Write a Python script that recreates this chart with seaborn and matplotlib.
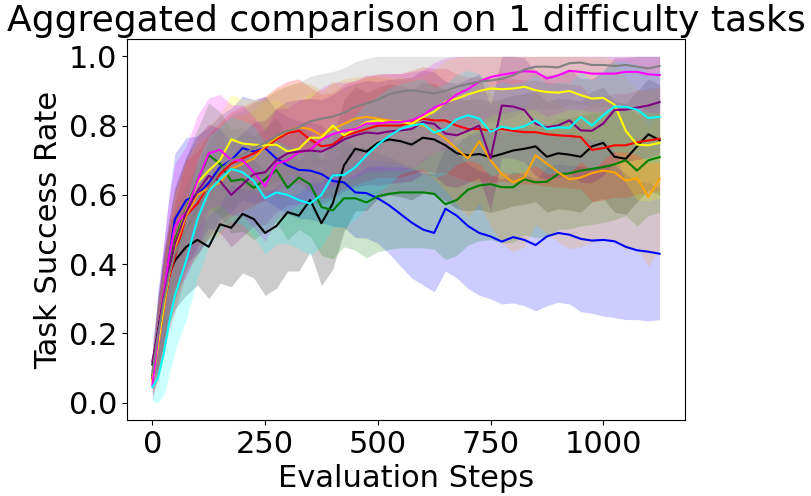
import numpy as np
import pandas as pd
import matplotlib
matplotlib.use("Agg")
import matplotlib.pyplot as plt
import seaborn as sns

steps = [0, 12, 25, 37, 50, 75, 100, 125, 150, 175, 200, 225, 250, 275, 300, 325,
         350, 375, 400, 425, 450, 475, 500, 525, 550, 575, 600, 625, 650, 675, 700,
         725, 750, 775, 800, 825, 850, 875, 900, 925, 950, 975, 1000, 1025, 1050,
         1075, 1100, 1125]

# mean task success rate per run
blue = [0.07, 0.20, 0.30, 0.42, 0.53, 0.585, 0.60, 0.635, 0.68, 0.70, 0.735, 0.725,
        0.735, 0.705, 0.685, 0.672, 0.67, 0.66, 0.64, 0.636, 0.607, 0.605, 0.59, 0.57,
        0.545, 0.52, 0.50, 0.49, 0.56, 0.54, 0.51, 0.49, 0.48, 0.465, 0.478, 0.47,
        0.455, 0.48, 0.49, 0.485, 0.473, 0.468, 0.47, 0.466, 0.45, 0.44, 0.436, 0.43]
black = [0.11, 0.20, 0.30, 0.37, 0.41, 0.45, 0.47, 0.45, 0.515, 0.505, 0.545, 0.53,
         0.49, 0.51, 0.55, 0.54, 0.585, 0.518, 0.575, 0.685, 0.733, 0.725, 0.75, 0.76,
         0.755, 0.745, 0.765, 0.76, 0.743, 0.72, 0.714, 0.718, 0.709, 0.718, 0.728,
         0.733, 0.74, 0.71, 0.72, 0.716, 0.71, 0.74, 0.75, 0.71, 0.704, 0.74, 0.775, 0.758]
green = [0.08, 0.18, 0.29, 0.39, 0.47, 0.56, 0.64, 0.715, 0.69, 0.64, 0.645, 0.62,
         0.645, 0.672, 0.62, 0.65, 0.63, 0.565, 0.555, 0.59, 0.59, 0.578, 0.596, 0.603,
         0.607, 0.607, 0.607, 0.603, 0.573, 0.585, 0.615, 0.627, 0.631, 0.622, 0.622,
         0.645, 0.636, 0.638, 0.66, 0.662, 0.67, 0.675, 0.68, 0.688, 0.70, 0.67, 0.70, 0.709]
red = [0.07, 0.17, 0.27, 0.36, 0.42, 0.54, 0.575, 0.625, 0.66, 0.69, 0.705, 0.72,
       0.735, 0.76, 0.778, 0.785, 0.76, 0.74, 0.745, 0.77, 0.78, 0.79, 0.80, 0.80, 0.80,
       0.81, 0.82, 0.815, 0.815, 0.80, 0.79, 0.79, 0.786, 0.79, 0.785, 0.781, 0.781,
       0.775, 0.772, 0.77, 0.767, 0.73, 0.735, 0.743, 0.743, 0.752, 0.757, 0.762]
orange = [0.06, 0.16, 0.27, 0.37, 0.45, 0.54, 0.60, 0.62, 0.635, 0.675, 0.69, 0.705,
          0.74, 0.765, 0.785, 0.795, 0.79, 0.772, 0.79, 0.805, 0.82, 0.825, 0.82, 0.815,
          0.81, 0.805, 0.80, 0.785, 0.762, 0.733, 0.705, 0.755, 0.70, 0.66, 0.636, 0.65,
          0.714, 0.69, 0.665, 0.645, 0.65, 0.663, 0.67, 0.665, 0.641, 0.648, 0.594, 0.646]
yellow = [0.06, 0.17, 0.28, 0.37, 0.46, 0.555, 0.635, 0.67, 0.70, 0.76, 0.748, 0.745,
          0.743, 0.745, 0.725, 0.733, 0.765, 0.765, 0.80, 0.772, 0.79, 0.81, 0.815, 0.81,
          0.812, 0.805, 0.825, 0.84, 0.868, 0.878, 0.89, 0.90, 0.907, 0.905, 0.907,
          0.912, 0.902, 0.897, 0.895, 0.90, 0.888, 0.878, 0.88, 0.86, 0.785, 0.745, 0.743, 0.75]
magenta = [0.05, 0.18, 0.31, 0.42, 0.51, 0.55, 0.64, 0.72, 0.73, 0.70, 0.70, 0.665,
           0.625, 0.69, 0.70, 0.723, 0.73, 0.76, 0.775, 0.785, 0.79, 0.806, 0.806, 0.81,
           0.81, 0.815, 0.83, 0.852, 0.865, 0.89, 0.905, 0.927, 0.94, 0.947, 0.952,
           0.957, 0.955, 0.936, 0.945, 0.958, 0.955, 0.95, 0.95, 0.95, 0.955, 0.955, 0.948, 0.946]
purple = [0.12, 0.20, 0.30, 0.38, 0.46, 0.55, 0.61, 0.655, 0.64, 0.60, 0.63, 0.66,
          0.665, 0.70, 0.72, 0.725, 0.728, 0.725, 0.74, 0.76, 0.772, 0.78, 0.777, 0.783,
          0.786, 0.79, 0.81, 0.805, 0.777, 0.772, 0.785, 0.80, 0.705, 0.858, 0.855,
          0.845, 0.805, 0.795, 0.80, 0.815, 0.786, 0.785, 0.806, 0.845, 0.846, 0.852, 0.858, 0.868]
cyan = [0.045, 0.07, 0.14, 0.23, 0.31, 0.41, 0.53, 0.61, 0.645, 0.675, 0.665, 0.64,
        0.59, 0.607, 0.60, 0.585, 0.575, 0.60, 0.656, 0.657, 0.68, 0.714, 0.745, 0.77,
        0.79, 0.80, 0.805, 0.78, 0.79, 0.818, 0.83, 0.82, 0.782, 0.797, 0.79, 0.798,
        0.815, 0.79, 0.795, 0.793, 0.825, 0.80, 0.83, 0.855, 0.854, 0.846, 0.822, 0.825]
gray = [0.09, 0.19, 0.29, 0.37, 0.43, 0.50, 0.56, 0.62, 0.67, 0.70, 0.715, 0.735,
        0.75, 0.77, 0.785, 0.795, 0.812, 0.82, 0.826, 0.837, 0.854, 0.864, 0.875, 0.89,
        0.898, 0.902, 0.897, 0.893, 0.90, 0.912, 0.92, 0.927, 0.93, 0.935, 0.945,
        0.962, 0.97, 0.97, 0.968, 0.98, 0.982, 0.975, 0.975, 0.972, 0.975, 0.97, 0.965, 0.972]

# standard deviation per run (shaded band)
blue_sd = [0.05, 0.12, 0.16, 0.18, 0.19, 0.18, 0.17, 0.16, 0.15, 0.15,
           0.15, 0.15, 0.15, 0.14, 0.14, 0.14, 0.14, 0.14, 0.13, 0.13,
           0.13, 0.13, 0.13, 0.14, 0.15, 0.16, 0.16, 0.17, 0.18, 0.18,
           0.18, 0.18, 0.18, 0.18, 0.19, 0.19, 0.19, 0.20, 0.20, 0.20,
           0.21, 0.21, 0.22, 0.22, 0.21, 0.20, 0.20, 0.19]
black_sd = [0.04, 0.10, 0.13, 0.14, 0.14, 0.14, 0.13, 0.15, 0.17, 0.17,
            0.17, 0.17, 0.18, 0.18, 0.17, 0.16, 0.15, 0.18, 0.19, 0.19,
            0.18, 0.17, 0.16, 0.16, 0.16, 0.16, 0.16, 0.16, 0.16, 0.16,
            0.16, 0.16, 0.16, 0.16, 0.16, 0.16, 0.16, 0.16, 0.16, 0.16,
            0.16, 0.16, 0.16, 0.16, 0.16, 0.16, 0.16, 0.16]
green_sd = [0.04, 0.10, 0.13, 0.14, 0.15, 0.15, 0.15, 0.15, 0.15, 0.15,
            0.15, 0.15, 0.15, 0.15, 0.15, 0.15, 0.15, 0.14, 0.14, 0.14,
            0.15, 0.16, 0.16, 0.16, 0.16, 0.16, 0.16, 0.16, 0.16, 0.16,
            0.16, 0.16, 0.16, 0.16, 0.16, 0.16, 0.16, 0.16, 0.16, 0.16,
            0.16, 0.16, 0.16, 0.16, 0.16, 0.16, 0.16, 0.16]
red_sd = [0.04, 0.10, 0.13, 0.15, 0.16, 0.16, 0.15, 0.15, 0.15, 0.15,
          0.15, 0.15, 0.15, 0.15, 0.15, 0.15, 0.15, 0.15, 0.15, 0.15,
          0.15, 0.15, 0.15, 0.15, 0.15, 0.15, 0.15, 0.15, 0.15, 0.15,
          0.15, 0.15, 0.15, 0.15, 0.15, 0.15, 0.15, 0.15, 0.15, 0.15,
          0.15, 0.15, 0.15, 0.15, 0.15, 0.15, 0.15, 0.15]
orange_sd = [0.04, 0.10, 0.13, 0.15, 0.16, 0.16, 0.15, 0.15, 0.15, 0.15,
             0.14, 0.14, 0.14, 0.14, 0.13, 0.13, 0.13, 0.13, 0.13, 0.13,
             0.12, 0.12, 0.12, 0.12, 0.12, 0.13, 0.13, 0.14, 0.15, 0.16,
             0.17, 0.18, 0.19, 0.20, 0.20, 0.20, 0.20, 0.20, 0.20, 0.20,
             0.20, 0.20, 0.20, 0.20, 0.20, 0.20, 0.20, 0.20]
yellow_sd = [0.04, 0.10, 0.13, 0.14, 0.14, 0.14, 0.13, 0.13, 0.13, 0.13,
             0.13, 0.13, 0.13, 0.13, 0.13, 0.13, 0.13, 0.13, 0.13, 0.13,
             0.13, 0.13, 0.13, 0.13, 0.13, 0.13, 0.12, 0.12, 0.12, 0.12,
             0.12, 0.12, 0.12, 0.12, 0.12, 0.12, 0.12, 0.12, 0.12, 0.12,
             0.12, 0.12, 0.12, 0.13, 0.15, 0.16, 0.16, 0.16]
magenta_sd = [0.04, 0.11, 0.15, 0.17, 0.18, 0.19, 0.19, 0.16, 0.16, 0.16,
              0.16, 0.16, 0.16, 0.16, 0.15, 0.15, 0.15, 0.15, 0.15, 0.14,
              0.14, 0.14, 0.14, 0.14, 0.14, 0.14, 0.13, 0.13, 0.13, 0.12,
              0.12, 0.12, 0.11, 0.11, 0.11, 0.11, 0.11, 0.11, 0.11, 0.11,
              0.11, 0.11, 0.11, 0.11, 0.11, 0.11, 0.11, 0.11]
purple_sd = [0.05, 0.10, 0.13, 0.15, 0.16, 0.16, 0.16, 0.15, 0.15, 0.15,
             0.15, 0.15, 0.15, 0.15, 0.15, 0.15, 0.15, 0.15, 0.15, 0.15,
             0.15, 0.15, 0.15, 0.15, 0.15, 0.15, 0.15, 0.15, 0.15, 0.15,
             0.15, 0.15, 0.15, 0.15, 0.15, 0.15, 0.15, 0.15, 0.15, 0.15,
             0.15, 0.15, 0.15, 0.15, 0.15, 0.15, 0.15, 0.15]
cyan_sd = [0.04, 0.08, 0.12, 0.15, 0.16, 0.17, 0.17, 0.16, 0.15, 0.15,
           0.15, 0.16, 0.16, 0.15, 0.14, 0.14, 0.15, 0.15, 0.15, 0.15,
           0.15, 0.15, 0.14, 0.14, 0.13, 0.13, 0.13, 0.13, 0.13, 0.13,
           0.13, 0.13, 0.13, 0.13, 0.13, 0.13, 0.13, 0.13, 0.13, 0.13,
           0.13, 0.13, 0.13, 0.13, 0.13, 0.13, 0.13, 0.13]
gray_sd = [0.04, 0.10, 0.12, 0.13, 0.13, 0.13, 0.13, 0.13, 0.13, 0.13,
           0.13, 0.13, 0.13, 0.13, 0.13, 0.13, 0.13, 0.13, 0.13, 0.13,
           0.13, 0.13, 0.13, 0.13, 0.13, 0.13, 0.13, 0.13, 0.13, 0.13,
           0.12, 0.12, 0.12, 0.12, 0.12, 0.12, 0.12, 0.12, 0.12, 0.12,
           0.12, 0.12, 0.12, 0.12, 0.12, 0.12, 0.12, 0.12]

runs = {
    'blue': (blue, blue_sd),
    'black': (black, black_sd),
    'green': (green, green_sd),
    'red': (red, red_sd),
    'orange': (orange, orange_sd),
    'yellow': (yellow, yellow_sd),
    'magenta': (magenta, magenta_sd),
    'purple': (purple, purple_sd),
    'cyan': (cyan, cyan_sd),
    'gray': (gray, gray_sd),
}

rows = []
for name, (mean, sd) in runs.items():
    for s, m, d in zip(steps, mean, sd):
        rows.append({'run': name, 'step': s, 'rate': m, 'sd': d})
df = pd.DataFrame(rows)

plt.rcParams['font.size'] = 22

fig, ax = plt.subplots(figsize=(8.11, 4.96), dpi=100)
fig.subplots_adjust(left=0.1566, right=0.8446, bottom=0.1532, top=0.9214)

sns.lineplot(data=df, x='step', y='rate', hue='run', palette={k: k for k in runs},
             hue_order=list(runs), errorbar=None, legend=False, linewidth=1.5, ax=ax)

# mean +/- std band, clipped to [0, 1]
for name in runs:
    sub = df[df['run'] == name]
    lo = np.clip(sub['rate'] - sub['sd'], 0, 1)
    hi = np.clip(sub['rate'] + sub['sd'], 0, 1)
    ax.fill_between(sub['step'], lo, hi, color=name, alpha=0.2, linewidth=0)

ax.set_xticks([0, 250, 500, 750, 1000])
ax.set_yticks([0.0, 0.2, 0.4, 0.6, 0.8, 1.0])
ax.set_xlabel('Evaluation Steps')
ax.set_ylabel('Task Success Rate')
ax.set_title('Aggregated comparison on 1 difficulty tasks', fontsize=26)

fig.savefig('out.png', dpi=100)
